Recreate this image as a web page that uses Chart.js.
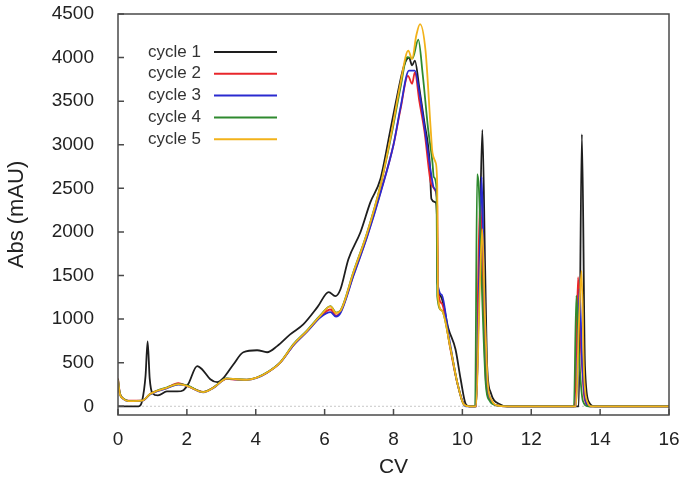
<!DOCTYPE html>
<html>
<head>
<meta charset="utf-8">
<script src="https://cdn.jsdelivr.net/npm/chart.js@4"></script>
<style>
  html, body { margin: 0; padding: 0; background: #fff; }
  #wrap { width: 688px; height: 484px; }
</style>
</head>
<body>
<div id="wrap"><canvas id="absChart"></canvas></div>
<script>
// Data: [CV, Abs (mAU)]
const cycle1 = [[0,0],[0.6,0],[0.7,60],[0.8,350],[0.86,745],[0.92,320],[1.0,150],[1.16,125],[1.42,170],[1.72,170],[1.9,185],[2.04,255],[2.3,460],[2.44,425],[2.68,310],[2.88,276],[3.05,320],[3.35,480],[3.64,620],[4.04,643],[4.33,620],[4.62,690],[5.0,825],[5.38,940],[5.79,1137],[6.12,1310],[6.31,1263],[6.46,1343],[6.69,1687],[7.04,1997],[7.33,2342],[7.62,2606],[7.9,3150],[8.1,3550],[8.3,3900],[8.45,4000],[8.54,3910],[8.62,3965],[8.75,3650],[8.9,3250],[9.05,2800],[9.1,2380],[9.22,2340],[9.26,2200],[9.28,1420],[9.37,1263],[9.6,884],[9.8,654],[9.95,310],[10.1,23],[10.2,0],[10.4,0],[10.5,1800],[10.58,3170],[10.66,1600],[10.72,460],[10.82,160],[11.1,20],[11.3,0],[13.38,0],[13.47,3120],[13.56,460],[13.68,46],[13.85,0],[16,0]];
const cycle2 = [[0,320],[0.05,160],[0.15,90],[0.3,65],[0.7,65],[0.93,140],[1.12,175],[1.41,210],[1.75,265],[2.0,235],[2.48,165],[2.77,214],[3.16,315],[3.45,305],[3.74,305],[4.03,330],[4.33,385],[4.71,500],[5.1,705],[5.49,860],[5.88,1030],[6.17,1110],[6.33,1040],[6.46,1080],[6.84,1510],[7.24,1960],[7.64,2480],[8.0,3000],[8.2,3400],[8.42,3790],[8.54,3700],[8.62,3830],[8.75,3500],[8.9,3150],[9.08,2570],[9.15,2515],[9.22,2470],[9.27,2300],[9.29,1350],[9.4,1180],[9.65,660],[9.85,270],[10.05,20],[10.2,0],[10.4,0],[10.46,1500],[10.52,2400],[10.6,1300],[10.68,300],[10.8,80],[11.0,10],[11.3,0],[13.26,0],[13.36,1480],[13.45,650],[13.55,80],[13.7,0],[16,0]];
const cycle3 = [[0,300],[0.05,150],[0.15,85],[0.3,60],[0.7,62],[0.93,135],[1.12,170],[1.41,205],[1.75,250],[2.0,235],[2.48,160],[2.77,210],[3.16,318],[3.45,308],[3.74,302],[4.03,325],[4.33,385],[4.71,500],[5.1,700],[5.49,855],[5.88,1020],[6.17,1080],[6.33,1030],[6.46,1070],[6.84,1500],[7.24,1950],[7.64,2470],[8.0,3000],[8.2,3420],[8.45,3850],[8.62,3850],[8.75,3600],[8.9,3200],[9.08,2700],[9.18,2500],[9.26,2400],[9.28,1420],[9.4,1280],[9.6,820],[9.85,276],[10.1,0],[10.4,0],[10.5,1700],[10.56,2630],[10.63,1400],[10.72,300],[10.82,80],[11.0,10],[11.3,0],[13.3,0],[13.4,1350],[13.48,500],[13.58,60],[13.7,0],[16,0]];
const cycle4 = [[0,310],[0.05,155],[0.15,90],[0.3,62],[0.7,65],[0.93,140],[1.12,178],[1.41,215],[1.75,255],[2.0,240],[2.48,165],[2.77,215],[3.16,320],[3.45,310],[3.74,305],[4.03,330],[4.33,390],[4.71,505],[5.1,715],[5.49,870],[5.88,1045],[6.17,1150],[6.33,1075],[6.46,1100],[6.84,1545],[7.24,2000],[7.62,2530],[7.96,3150],[8.2,3650],[8.4,4006],[8.55,3990],[8.72,4205],[8.85,3800],[9.0,3200],[9.13,2800],[9.17,2630],[9.25,2500],[9.27,1263],[9.4,1100],[9.66,654],[9.85,276],[10.04,23],[10.2,0],[10.37,0],[10.43,2663],[10.48,2500],[10.58,1200],[10.68,250],[10.78,70],[11.0,10],[11.3,0],[13.24,0],[13.31,1270],[13.4,500],[13.5,60],[13.65,0],[16,0]];
const cycle5 = [[0,300],[0.05,150],[0.15,88],[0.3,60],[0.7,65],[0.93,140],[1.12,175],[1.41,212],[1.75,255],[2.0,235],[2.48,162],[2.77,212],[3.16,318],[3.45,310],[3.74,303],[4.03,328],[4.33,388],[4.71,502],[5.1,712],[5.49,866],[5.88,1040],[6.17,1145],[6.33,1070],[6.46,1095],[6.84,1540],[7.24,1995],[7.62,2530],[7.96,3180],[8.2,3700],[8.43,4079],[8.54,3983],[8.66,4250],[8.77,4385],[8.93,4079],[9.08,3180],[9.13,2912],[9.22,2800],[9.27,2530],[9.29,1263],[9.4,1100],[9.66,654],[9.85,276],[10.04,23],[10.2,0],[10.4,0],[10.5,1300],[10.58,2032],[10.65,1100],[10.74,250],[10.85,70],[11.0,10],[11.3,0],[13.3,0],[13.38,900],[13.46,1553],[13.53,400],[13.62,60],[13.75,0],[16,0]];

const seriesNames = ["cycle 1", "cycle 2", "cycle 3", "cycle 4", "cycle 5"];
const seriesData = [cycle1, cycle2, cycle3, cycle4, cycle5];
const seriesColors = ["#1e1e1e", "#e8262b", "#2a2ad0", "#2f8a2f", "#f2b21a"];
const yTicks = [0, 500, 1000, 1500, 2000, 2500, 3000, 3500, 4000, 4500];

const FONT = "'Liberation Sans', Arial, sans-serif";

// gnuplot-style frame, inward ticks, zero line and legend
const framePlugin = {
  id: "frame",
  beforeDatasetsDraw(chart) {
    const { ctx, chartArea: a, scales } = chart;
    const y0 = scales.y.getPixelForValue(0);
    ctx.save();
    ctx.strokeStyle = "#c8c8c8";
    ctx.lineWidth = 1;
    ctx.setLineDash([2, 2]);
    ctx.beginPath();
    ctx.moveTo(a.left, y0);
    ctx.lineTo(a.right, y0);
    ctx.stroke();
    ctx.restore();
  },
  afterDraw(chart) {
    const { ctx, chartArea: a, scales } = chart;
    ctx.save();
    ctx.strokeStyle = "#4a4a4a";
    ctx.lineWidth = 1.5;
    ctx.strokeRect(a.left, a.top, a.right - a.left, a.bottom - a.top);
    ctx.beginPath();
    scales.y.ticks.forEach(t => {
      const p = scales.y.getPixelForValue(t.value);
      ctx.moveTo(a.left, p);
      ctx.lineTo(a.left + 6, p);
    });
    scales.x.ticks.forEach(t => {
      const p = scales.x.getPixelForValue(t.value);
      ctx.moveTo(p, a.bottom);
      ctx.lineTo(p, a.bottom - 6);
    });
    ctx.stroke();

    // legend: text then line sample
    ctx.font = "17px " + FONT;
    ctx.textAlign = "right";
    ctx.textBaseline = "middle";
    seriesNames.forEach((name, i) => {
      const yy = a.top + 38 + i * 21.8;
      ctx.fillStyle = "#333";
      ctx.fillText(name, a.left + 83, yy);
      ctx.strokeStyle = seriesColors[i];
      ctx.lineWidth = 2;
      ctx.beginPath();
      ctx.moveTo(a.left + 96, yy);
      ctx.lineTo(a.left + 159, yy);
      ctx.stroke();
    });
    ctx.restore();
  }
};

const ctx = document.getElementById("absChart").getContext("2d");
const chart = new Chart(ctx, {
  type: "line",
  data: {
    datasets: seriesData.map((d, i) => ({
      label: seriesNames[i],
      data: d.map(p => ({ x: p[0], y: p[1] })),
      borderColor: seriesColors[i],
      borderWidth: 1.8,
      pointRadius: 0,
      fill: false,
      cubicInterpolationMode: "monotone",
      order: seriesData.length - i,
    })),
  },
  options: {
    responsive: true,
    maintainAspectRatio: false,
    animation: false,
    layout: { padding: { top: 14, right: 19, left: 0, bottom: 0 } },
    plugins: {
      legend: { display: false },
      tooltip: { enabled: false },
    },
    scales: {
      x: {
        type: "linear",
        min: 0,
        max: 16,
        grid: { display: false },
        border: { display: false },
        ticks: {
          stepSize: 2,
          padding: 5,
          color: "#222",
          font: { family: FONT, size: 19 },
        },
        title: {
          display: true,
          text: "CV",
          color: "#222",
          font: { family: FONT, size: 21 },
          padding: { top: 0, bottom: 4 },
        },
        afterFit: s => { s.height = 69; s.paddingLeft = 0; s.paddingRight = 0; },
      },
      y: {
        min: -100,
        max: 4500,
        grid: { display: false },
        border: { display: false },
        afterBuildTicks: s => { s.ticks = yTicks.map(v => ({ value: v })); },
        ticks: {
          padding: 16,
          color: "#222",
          font: { family: FONT, size: 19 },
          callback: v => String(v),
        },
        title: {
          display: true,
          text: "Abs (mAU)",
          color: "#222",
          font: { family: FONT, size: 22 },
          padding: { top: 4, bottom: 0 },
        },
        afterFit: s => { s.width = 118; s.paddingTop = 0; s.paddingBottom = 0; },
      },
    },
  },
  plugins: [framePlugin],
});
</script>
</body>
</html>
